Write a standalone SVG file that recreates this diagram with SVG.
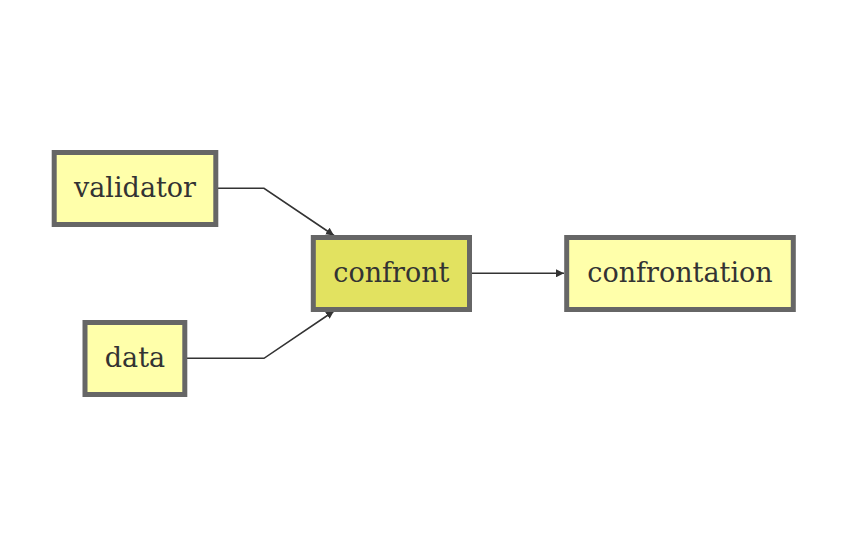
<svg xmlns="http://www.w3.org/2000/svg" width="845" height="545" viewBox="0 0 845 545">
<style>
.node rect{fill:#ffffaa;stroke:#666666;stroke-width:5}
.node.hl rect{fill:#e2e260}
.node text{font-family:"DejaVu Serif",serif;font-size:27px;fill:#333333;text-anchor:middle}
.edge{fill:none;stroke:#333333;stroke-width:1.6}
</style>
<defs>
<marker id="arr" viewBox="0 0 10 10" refX="10" refY="5" markerWidth="8" markerHeight="8" markerUnits="userSpaceOnUse" orient="auto">
<path d="M0,0 L10,5 L0,10 z" fill="#333333"/>
</marker>
</defs>
<rect width="845" height="545" fill="#ffffff"/>
<g id="connectors">
<path class="edge" d="M218,188.3 L264,188.3 L334,235.5" marker-end="url(#arr)"/>
<path class="edge" d="M187,358.3 L264,358.3 L334,311" marker-end="url(#arr)"/>
<path class="edge" d="M472,273.3 L564,273.3" marker-end="url(#arr)"/>
</g>
<g id="validator" class="node">
<rect x="54.2" y="152.5" width="161.6" height="72"/>
<text x="135" y="197">validator</text>
</g>
<g id="data" class="node">
<rect x="85" y="322.5" width="99.8" height="72"/>
<text x="135" y="367">data</text>
</g>
<g id="confront" class="node hl">
<rect x="313.3" y="237.5" width="156.2" height="72"/>
<text x="391.4" y="282">confront</text>
</g>
<g id="confrontation" class="node">
<rect x="566.7" y="237.5" width="226.6" height="72"/>
<text x="680" y="282">confrontation</text>
</g>
</svg>
